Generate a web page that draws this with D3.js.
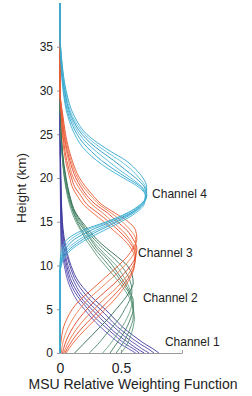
<!DOCTYPE html>
<html>
<head>
<meta charset="utf-8">
<script src="https://cdn.jsdelivr.net/npm/d3@7"></script>
<style>
  html, body { margin: 0; padding: 0; background: #fff; }
  svg { display: block; font-family: "Liberation Sans", Arial, Helvetica, sans-serif; }
</style>
</head>
<body>
<div id="chart"></div>
<script>
// heights (km) per channel, weights per view angle (6 curves each)
const ch1Heights = [0, 0.5, 1, 2, 3, 4, 5, 6, 7, 8, 10, 12, 15, 20, 25, 30, 40];
const ch1Weights = [
  [0.62, 0.56, 0.50, 0.41, 0.33, 0.26, 0.20, 0.14, 0.10, 0.07, 0.035, 0.015, 0.006, 0.002, 0.001, 0, 0],
  [0.65, 0.60, 0.54, 0.45, 0.37, 0.29, 0.23, 0.17, 0.12, 0.085, 0.045, 0.02, 0.008, 0.003, 0.001, 0, 0],
  [0.69, 0.63, 0.58, 0.48, 0.40, 0.33, 0.26, 0.19, 0.14, 0.10, 0.055, 0.028, 0.011, 0.004, 0.001, 0, 0],
  [0.73, 0.67, 0.62, 0.52, 0.44, 0.36, 0.29, 0.22, 0.16, 0.12, 0.065, 0.035, 0.014, 0.005, 0.002, 0, 0],
  [0.77, 0.72, 0.66, 0.56, 0.47, 0.40, 0.33, 0.25, 0.19, 0.14, 0.08, 0.042, 0.017, 0.006, 0.002, 0, 0],
  [0.81, 0.76, 0.70, 0.60, 0.51, 0.44, 0.37, 0.29, 0.22, 0.16, 0.09, 0.05, 0.02, 0.007, 0.002, 0, 0]
];

const ch2Heights = [0, 1, 2, 3, 4, 5, 6, 7, 8, 9, 10, 11, 12, 13, 14, 15, 16, 18, 20, 23, 26, 30, 40];
const ch2Weights = [
  [0.50, 0.55, 0.58, 0.60, 0.61, 0.60, 0.58, 0.54, 0.49, 0.43, 0.37, 0.31, 0.26, 0.21, 0.17, 0.13, 0.10, 0.06, 0.035, 0.015, 0.005, 0, 0],
  [0.46, 0.51, 0.55, 0.58, 0.60, 0.60, 0.59, 0.56, 0.51, 0.46, 0.40, 0.34, 0.28, 0.23, 0.18, 0.14, 0.11, 0.065, 0.038, 0.016, 0.005, 0, 0],
  [0.41, 0.46, 0.51, 0.55, 0.58, 0.60, 0.60, 0.57, 0.53, 0.48, 0.43, 0.37, 0.30, 0.25, 0.20, 0.15, 0.115, 0.07, 0.04, 0.017, 0.006, 0, 0],
  [0.35, 0.41, 0.46, 0.51, 0.55, 0.58, 0.59, 0.58, 0.55, 0.51, 0.46, 0.39, 0.32, 0.26, 0.21, 0.16, 0.12, 0.072, 0.043, 0.018, 0.006, 0, 0],
  [0.24, 0.31, 0.37, 0.43, 0.49, 0.53, 0.57, 0.59, 0.58, 0.55, 0.50, 0.43, 0.35, 0.28, 0.22, 0.17, 0.125, 0.076, 0.046, 0.019, 0.007, 0, 0],
  [0.12, 0.19, 0.26, 0.33, 0.40, 0.46, 0.52, 0.57, 0.60, 0.59, 0.55, 0.47, 0.38, 0.30, 0.24, 0.18, 0.13, 0.08, 0.05, 0.02, 0.007, 0, 0]
];

const ch3Heights = [0, 1, 2, 3, 4, 5, 6, 7, 8, 9, 10, 11, 12, 13, 14, 15, 16, 17, 18, 19, 20, 22, 24, 27, 30, 40];
const ch3Weights = [
  [0.05, 0.10, 0.16, 0.23, 0.30, 0.37, 0.44, 0.50, 0.55, 0.59, 0.61, 0.61, 0.58, 0.52, 0.44, 0.36, 0.27, 0.19, 0.14, 0.10, 0.08, 0.045, 0.025, 0.01, 0, 0],
  [0.04, 0.08, 0.13, 0.19, 0.26, 0.33, 0.40, 0.47, 0.53, 0.58, 0.61, 0.62, 0.60, 0.55, 0.48, 0.40, 0.31, 0.22, 0.17, 0.12, 0.095, 0.055, 0.032, 0.013, 0, 0],
  [0.03, 0.06, 0.10, 0.15, 0.21, 0.28, 0.35, 0.43, 0.50, 0.56, 0.60, 0.62, 0.61, 0.57, 0.51, 0.43, 0.35, 0.26, 0.20, 0.15, 0.11, 0.07, 0.04, 0.016, 0, 0],
  [0.02, 0.04, 0.07, 0.11, 0.16, 0.22, 0.29, 0.37, 0.45, 0.52, 0.58, 0.62, 0.63, 0.60, 0.55, 0.47, 0.39, 0.29, 0.22, 0.17, 0.13, 0.08, 0.046, 0.019, 0, 0],
  [0.01, 0.02, 0.04, 0.07, 0.11, 0.16, 0.22, 0.30, 0.38, 0.46, 0.53, 0.59, 0.62, 0.62, 0.58, 0.51, 0.42, 0.32, 0.25, 0.19, 0.145, 0.09, 0.053, 0.022, 0, 0],
  [0, 0.005, 0.015, 0.03, 0.06, 0.10, 0.16, 0.24, 0.32, 0.40, 0.48, 0.55, 0.60, 0.63, 0.62, 0.56, 0.45, 0.34, 0.27, 0.21, 0.16, 0.10, 0.06, 0.025, 0, 0]
];

const ch4Heights = [0, 9, 10, 11, 12, 13, 14, 15, 16, 17, 18, 19, 20, 21, 22, 23, 24, 25, 27, 30, 33, 37, 40];
const ch4Weights = [
  [0, 0, 0.01, 0.04, 0.11, 0.22, 0.36, 0.50, 0.62, 0.69, 0.70, 0.64, 0.52, 0.40, 0.30, 0.22, 0.16, 0.12, 0.065, 0.025, 0.008, 0, 0],
  [0, 0, 0.008, 0.03, 0.09, 0.19, 0.32, 0.47, 0.60, 0.68, 0.70, 0.66, 0.55, 0.44, 0.34, 0.26, 0.19, 0.14, 0.075, 0.03, 0.01, 0, 0],
  [0, 0, 0.005, 0.02, 0.07, 0.16, 0.29, 0.45, 0.59, 0.68, 0.71, 0.67, 0.58, 0.48, 0.39, 0.30, 0.22, 0.16, 0.085, 0.035, 0.012, 0, 0],
  [0, 0, 0.003, 0.015, 0.05, 0.12, 0.25, 0.42, 0.58, 0.67, 0.71, 0.69, 0.62, 0.53, 0.44, 0.34, 0.25, 0.18, 0.095, 0.04, 0.014, 0, 0],
  [0, 0, 0.001, 0.01, 0.035, 0.09, 0.21, 0.40, 0.56, 0.67, 0.71, 0.70, 0.65, 0.58, 0.49, 0.38, 0.28, 0.20, 0.105, 0.045, 0.016, 0, 0],
  [0, 0, 0, 0.005, 0.02, 0.06, 0.18, 0.38, 0.55, 0.66, 0.71, 0.71, 0.68, 0.62, 0.54, 0.42, 0.31, 0.22, 0.12, 0.05, 0.018, 0, 0]
];

const channelNames = ['Channel 1', 'Channel 2', 'Channel 3', 'Channel 4'];
// where each channel name sits, in data units [weight, height]
const labelAt = [[0.86, 1.3], [0.68, 6.3], [0.64, 11.5], [0.755, 18.2]];

const yTicks = [0, 5, 10, 15, 20, 25, 30, 35];
const xTicks = [0, 0.5, 1];
const xTickLabels = ['0', '0.5', ''];

const palettes = [
  ['#5a4db4', '#4a42a8', '#3f3b9f', '#5446ad', '#463fa4', '#3a3898'],
  ['#5e9a7b', '#4c886a', '#3d7a5c', '#68a285', '#46836a', '#2f6b4f'],
  ['#f0643a', '#e84a2a', '#ee7040', '#e3402a', '#f27a4a', '#e85530'],
  ['#3ab0d4', '#2a9fc8', '#4cb8d8', '#2496c0', '#5ac0dc', '#34a6cc']
];

const channels = [
  { heights: ch1Heights, weights: ch1Weights },
  { heights: ch2Heights, weights: ch2Weights },
  { heights: ch3Heights, weights: ch3Weights },
  { heights: ch4Heights, weights: ch4Weights }
];

const width = 252;
const height = 396;
const marginLeft = 60;
const plotRight = 182;
const plotTop = 3;
const plotBottom = 353;

const x = d3.scaleLinear().domain([0, 1]).range([marginLeft, plotRight]);
const y = d3.scaleLinear().domain([0, 40]).range([plotBottom, plotTop]);

const svg = d3.select('#chart')
  .append('svg')
  .attr('width', width)
  .attr('height', height)
  .attr('viewBox', [0, 0, width, height]);

svg.append('rect').attr('width', width).attr('height', height).attr('fill', '#fff');

// Axes
const yAxis = svg.append('g')
  .attr('transform', `translate(${marginLeft},0)`)
  .call(d3.axisLeft(y).tickValues(yTicks).tickSize(3).tickPadding(4).tickSizeOuter(0));
yAxis.select('.domain').attr('stroke', '#9fb4c0');
yAxis.selectAll('.tick line').attr('stroke', '#999');
yAxis.selectAll('text').style('font-size', '12px').attr('fill', '#222');

const xAxis = svg.append('g')
  .attr('transform', `translate(0,${plotBottom})`)
  .call(d3.axisBottom(x).tickValues(xTicks).tickSize(-3).tickSizeOuter(0)
    .tickFormat((d, i) => xTickLabels[i]));
xAxis.select('.domain').attr('stroke', '#999');
xAxis.selectAll('.tick line').attr('stroke', '#999');
xAxis.selectAll('text')
  .attr('y', 20)
  .attr('dy', 0)
  .style('font-size', '14px')
  .attr('fill', '#222');

// Curves
const line = d3.line()
  .x(d => x(d[1]))
  .y(d => y(d[0]))
  .curve(d3.curveMonotoneY);

channels.forEach((ch, ci) => {
  ch.weights.forEach((w, k) => {
    svg.append('path')
      .datum(d3.zip(ch.heights, w))
      .attr('fill', 'none')
      .attr('stroke', palettes[ci][k])
      .attr('stroke-width', 0.9)
      .attr('d', line);
  });
});

// Channel names
svg.append('g')
  .selectAll('text')
  .data(channelNames)
  .join('text')
  .attr('x', (d, i) => x(labelAt[i][0]))
  .attr('y', (d, i) => y(labelAt[i][1]))
  .attr('dy', '0.35em')
  .style('font-size', '12px')
  .attr('fill', '#222')
  .text(d => d);

// Axis titles
svg.append('text')
  .attr('x', 133)
  .attr('y', 389)
  .attr('text-anchor', 'middle')
  .style('font-size', '14px')
  .attr('fill', '#222')
  .text('MSU Relative Weighting Function');

svg.append('text')
  .attr('transform', `translate(26,${(plotTop + plotBottom) / 2 + 10}) rotate(-90)`)
  .attr('text-anchor', 'middle')
  .style('font-size', '13.5px')
  .attr('fill', '#222')
  .text('Height (km)');
</script>
</body>
</html>
